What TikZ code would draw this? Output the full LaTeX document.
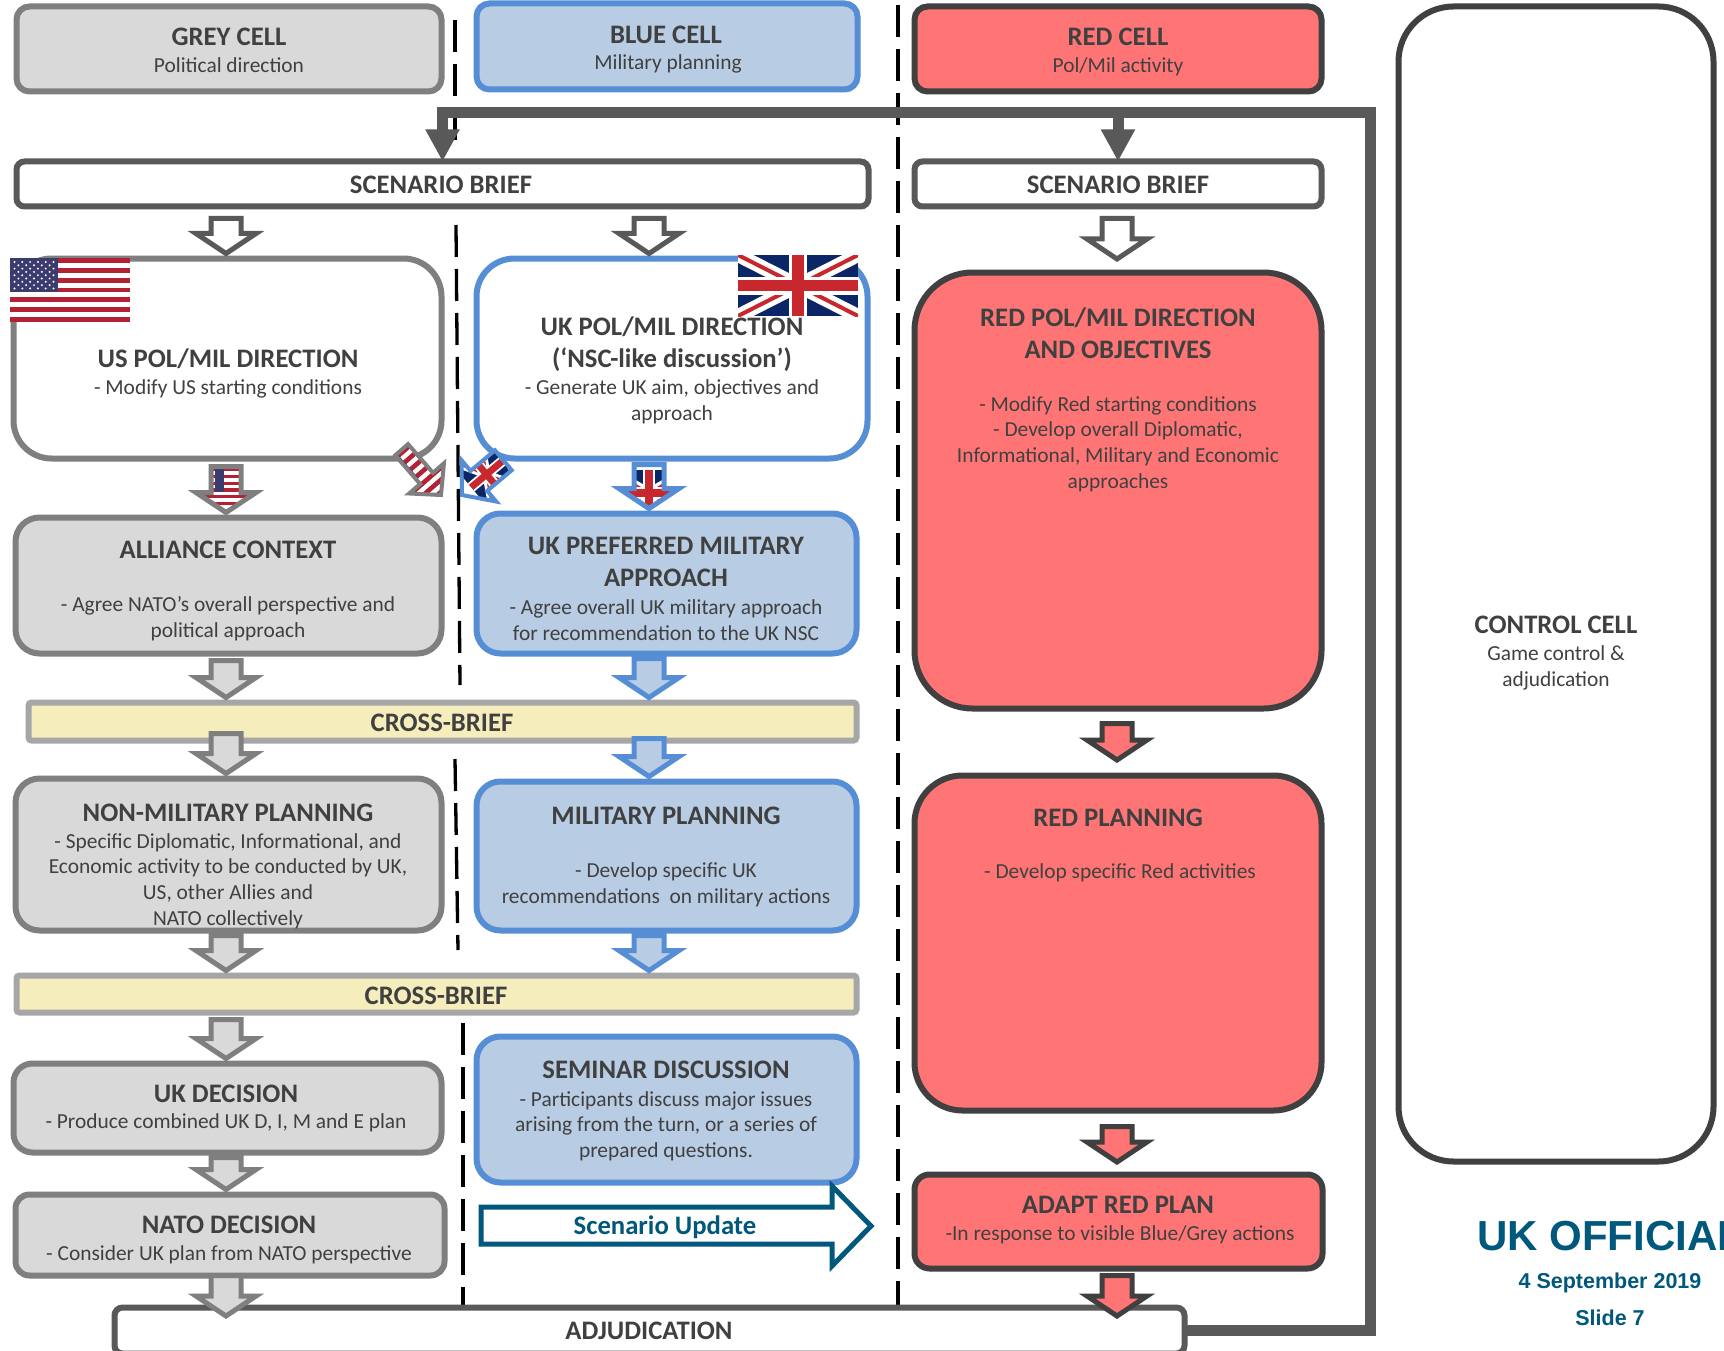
\documentclass[tikz,border=0pt]{standalone}
\usepackage{fontspec}
\setmainfont{Carlito}
\newfontfamily\arialf{Liberation Sans}
\usetikzlibrary{calc,arrows.meta}
\definecolor{txt}{HTML}{404040}
\definecolor{gfill}{HTML}{D9D9D9}
\definecolor{gline}{HTML}{7F7F7F}
\definecolor{bfill}{HTML}{B8CCE4}
\definecolor{bline}{HTML}{558ED5}
\definecolor{rfill}{HTML}{FF7575}
\definecolor{rline}{HTML}{404040}
\definecolor{wline}{HTML}{595959}
\definecolor{xfill}{HTML}{F6EDBD}
\definecolor{xline}{HTML}{A6A6A6}
\definecolor{teal}{HTML}{00587C}
\definecolor{navy}{HTML}{0B2667}
\definecolor{ukred}{HTML}{C8282D}
\definecolor{usred}{HTML}{B22234}
\definecolor{usblue}{HTML}{3C3B6E}
\tikzset{
  cell/.style={rectangle,draw,inner sep=0pt,outer sep=0pt,line width=6pt},
  greybox/.style={cell,fill=gfill,draw=gline,rounded corners=#1},
  bluebox/.style={cell,fill=bfill,draw=bline,rounded corners=#1},
  redbox/.style={cell,fill=rfill,draw=rline,rounded corners=#1},
  whitebox/.style={cell,fill=white,draw=wline,rounded corners=#1},
  crossbox/.style={cell,fill=xfill,draw=xline,rounded corners=3pt},
  head/.style={text=txt,align=center,inner sep=0pt,font=\fontsize{26.7}{32}\selectfont\bfseries},
  body/.style={text=txt,align=center,inner sep=0pt,font=\fontsize{21.4}{25.7}\selectfont},
  divider/.style={line width=3.3pt,black,dash pattern=on 32pt off 12pt},
  busarrow/.style={line width=11pt,wline,line join=miter,-{Triangle[length=32pt,width=32pt]}},
  blockline/.style={line width=5pt,line join=miter,miter limit=10},
  diagline/.style={line width=4pt,line join=miter,miter limit=10},
  brand/.style={text=teal,inner sep=0pt,font=\arialf\bfseries}
}
\newcommand{\boxn}[6]{\node[#1,minimum width={(#5-#3-5)*1pt},minimum height={(#6-#4-5)*1pt}] (#2) at ({(#3+#5)/2},{(#4+#6)/2}) {};}
% block arrow coordinates: x, source, top offset, target
\newcommand{\blkc}[4]{\path let \p1=(#2),\p2=(#4) in coordinate (bt) at ({#1pt},{\y1-(#3)*1pt}) coordinate (bb) at ({#1pt},{\y2+5pt});}
\newcommand{\blkp}{(bb) -- ($(bb)+(-30,-20)$) -- ($(bb)+(-15,-20)$) -- ($(bt)+(-15,0)$) -- ($(bt)+(15,0)$) -- ($(bb)+(15,-20)$) -- ($(bb)+(30,-20)$) -- cycle}
\newcommand{\blk}[6]{\blkc{#1}{#2}{#3}{#4}\draw[blockline,fill=#5,draw=#6] \blkp;}
% flags: x, y, w, h (y grows in the direction of the scope's negative y vector)
\newcommand{\usflag}[6]{\begin{scope}[shift={(#1,#2)},x=#3pt,y=-#4pt]
  \fill[white] (0,0) rectangle (1,1);
  \foreach \s in {0,2,4,6,8,10,12}{\fill[usred] (0,\s/13) rectangle (1,\s/13+1/13);}
  \fill[usblue] (#5,0) rectangle (#6,7/13);
\end{scope}}
\newcommand{\ukflag}[4]{\begin{scope}[shift={(#1,#2)},x=#3pt/60,y=-#4pt/30]
  \pgfmathsetmacro{\fs}{#3/60}
  \clip (0,0) rectangle (60,30);
  \fill[navy] (0,0) rectangle (60,30);
  \draw[white,line width=\fs*7pt] (0,0) -- (60,30) (0,30) -- (60,0);
  \draw[ukred,line width=\fs*2pt] (0,0) -- (60,30) (0,30) -- (60,0);
  \draw[white,line width=\fs*9pt] (30,0) -- (30,30) (0,15) -- (60,15);
  \draw[ukred,line width=\fs*5.8pt] (30,0) -- (30,30) (0,15) -- (60,15);
\end{scope}}
\begin{document}
\begin{tikzpicture}[x=1pt,y=-1pt]
\useasboundingbox (0,0) rectangle (1724,1351);
\clip (0,0) rectangle (1724,1351);
\fill[white] (0,0) rectangle (1724,1351);

% dividers
\draw[divider] (455,20) -- (455,145);
\draw[divider] (456,225) -- (460,685);
\draw[divider] (455,759) -- (458,950);
\draw[divider] (463,1023) -- (463,1305);
\draw[divider] (898,5) -- (898,1305);

% boxes
\boxn{greybox=13pt}{greycell}{14}{4}{444}{94}
\boxn{bluebox=13pt}{bluecell}{474}{1}{860}{92}
\boxn{redbox=13pt}{redcell}{912}{4}{1324}{94}
\boxn{whitebox=8pt}{briefL}{14}{159}{871}{209}
\boxn{whitebox=8pt}{briefR}{912}{159}{1324}{209}
\boxn{whitebox=38pt,draw=gline}{usdir}{11}{256}{444}{461}
\boxn{whitebox=38pt,draw=bline}{ukdir}{474}{256}{870}{461}
\boxn{greybox=24pt}{alliance}{13}{515}{444}{656}
\boxn{bluebox=24pt}{ukpref}{474}{511}{859}{656}
\boxn{crossbox}{crossA}{26}{700}{859}{743}
\boxn{greybox=24pt}{nonmil}{13}{776}{444}{933}
\boxn{bluebox=24pt}{milplan}{474}{779}{859}{933}
\boxn{crossbox}{crossB}{14}{973}{859}{1015}
\boxn{greybox=19pt}{ukdec}{11}{1061}{444}{1155}
\boxn{bluebox=24pt}{seminar}{474}{1034}{859}{1185}
\boxn{greybox=14pt}{natodec}{13}{1192}{447}{1278}
\boxn{redbox=58pt}{redpol}{912}{270}{1324}{711}
\boxn{redbox=48pt}{redplan}{912}{773}{1324}{1113}
\boxn{redbox=15pt}{adapt}{912}{1172}{1325}{1271}
\boxn{whitebox=8pt}{adjud}{112}{1305}{1187}{1356}
\boxn{whitebox=55pt,draw=rline}{control}{1396}{4}{1716}{1164}

% free ends of connectors
\coordinate (busc) at (1370,113);
\coordinate (redtipA) at (1117,264);
\coordinate (redtipB) at (1117,765);
\coordinate (redtipC) at (1117,1167);
\coordinate (adjtipL) at (226,1321);
\coordinate (adjtipR) at (1117,1321);

% big flags
\usflag{10}{258}{120}{64}{0}{.4}
\foreach \i in {0,...,5}{\foreach \j in {0,...,4}{
  \fill[white] (14.5+\i*7.8,262+\j*6.6) circle (1.1);}}
\foreach \i in {0,...,4}{\foreach \j in {0,...,3}{
  \fill[white] (18.4+\i*7.8,265.3+\j*6.6) circle (1.1);}}
\ukflag{738}{255}{120}{61}

% thick connector
\draw[busarrow] (adjud.east) -| (busc) -| (briefL.north);
\draw[busarrow] (busc -| briefR.north) -- (briefR.north);

% block arrows
\blk{226}{briefL.south}{12}{usdir.north}{white}{wline}
\blk{649}{briefL.south}{12}{ukdir.north}{white}{wline}
\blk{1117}{briefR.south}{12}{redtipA}{white}{wline}
\blkc{226}{usdir.south}{8}{alliance.north}
\begin{scope}\clip \blkp; \usflag{196}{468}{60}{44}{.32}{.46} \end{scope}
\draw[blockline,draw=gline] \blkp;
\blkc{649}{ukdir.south}{6}{ukpref.north}
\begin{scope}\clip \blkp; \ukflag{609}{470}{80}{46} \end{scope}
\draw[blockline,draw=bline] \blkp;
\blk{226}{alliance.south}{7}{crossA.north}{gfill}{gline}
\blk{649}{ukpref.south}{5}{crossA.north}{bfill}{bline}
\blk{226}{crossA.south}{-7}{nonmil.north}{gfill}{gline}
\blk{649}{crossA.south}{-2}{milplan.north}{bfill}{bline}
\blk{226}{nonmil.south}{5}{crossB.north}{gfill}{gline}
\blk{649}{milplan.south}{5}{crossB.north}{bfill}{bline}
\blk{226}{crossB.south}{7}{ukdec.north}{gfill}{gline}
\blk{226}{ukdec.south}{5}{natodec.north}{gfill}{gline}
\blk{226}{natodec.south}{0}{adjtipL}{gfill}{gline}
\blk{1117}{redpol.south}{15}{redtipB}{rfill}{rline}
\blk{1117}{redplan.south}{16}{redtipC}{rfill}{rline}
\blk{1117}{adapt.south}{7}{adjtipR}{rfill}{rline}

% diagonal flag arrows
\begin{scope}[shift={(441,495)},rotate=41,x=1pt,y=1pt]
  \begin{scope}
    \clip (0,0) -- (-23,22) -- (-8.5,22) -- (-8.5,60) -- (8.5,60) -- (8.5,22) -- (23,22) -- cycle;
    \usflag{-30}{60}{60}{60}{.22}{.4}
  \end{scope}
  \draw[diagline,draw=gline] (0,0) -- (-23,22) -- (-8.5,22) -- (-8.5,60) -- (8.5,60) -- (8.5,22) -- (23,22) -- cycle;
\end{scope}
\begin{scope}[shift={(462,495)},rotate=-50,x=1pt,y=1pt]
  \begin{scope}
    \clip (0,0) -- (-27,22) -- (-13,22) -- (-13,54) -- (13,54) -- (13,22) -- (27,22) -- cycle;
    \ukflag{-35}{52}{70}{40}
  \end{scope}
  \draw[diagline,draw=bline] (0,0) -- (-27,22) -- (-13,22) -- (-13,54) -- (13,54) -- (13,22) -- (27,22) -- cycle;
\end{scope}

% scenario update arrow
\coordinate (suA) at (481,1207);
\coordinate (suB) at (832,1207);
\coordinate (suC) at (832,1186);
\coordinate (suD) at (871,1226);
\coordinate (suE) at (832,1266);
\coordinate (suF) at (832,1244);
\coordinate (suG) at (481,1244);
\draw[blockline,fill=white,draw=teal] (suA) -- (suB) -- (suC) -- (suD) -- (suE) -- (suF) -- (suG) -- cycle;

% texts
\node[head] (t1) at (229,37) {GREY CELL};
\node[body] (t2) at (229,65) {Political direction};
\node[head] (t3) at (666,35) {BLUE CELL};
\node[body] (t4) at (668,64) {Military planning};
\node[head] (t5) at (1118,37) {RED CELL};
\node[body] (t6) at (1118,67) {Pol/Mil activity};
\node[head] (t7) at (441,185) {SCENARIO BRIEF};
\node[head] (t8) at (1118,185) {SCENARIO BRIEF};
\node[head] (t9) at (228,359) {US POL/MIL DIRECTION};
\node[body] (t10) at (228,389) {- Modify US starting conditions};
\node[head] (t11) at (672,344) {UK POL/MIL DIRECTION\\(‘NSC-like discussion’)};
\node[body] (t12) at (672,402) {- Generate UK aim, objectives and\\approach};
\node[head] (t13) at (228,550) {ALLIANCE CONTEXT};
\node[body] (t14) at (228,619) {- Agree NATO’s overall perspective and\\political approach};
\node[head] (t15) at (666,562) {UK PREFERRED MILITARY\\APPROACH};
\node[body] (t16) at (666,620) {- Agree overall UK military approach\\for recommendation to the UK NSC};
\node[head] (t17) at (442,723) {CROSS-BRIEF};
\node[head] (t18) at (228,813) {NON-MILITARY PLANNING};
\node[body] (t19) at (228,881) {- Specific Diplomatic, Informational, and\\Economic activity to be conducted by UK,\\US, other Allies and\\NATO collectively};
\node[head] (t20) at (666,816) {MILITARY PLANNING};
\node[body] (t21) at (666,885) {- Develop specific UK\\recommendations\ \ on military actions};
\node[head] (t22) at (436,996) {CROSS-BRIEF};
\node[head] (t23) at (226,1094) {UK DECISION};
\node[body] (t24) at (226,1123) {- Produce combined UK D, I, M and E plan};
\node[head] (t25) at (666,1070) {SEMINAR DISCUSSION};
\node[body] (t26) at (666,1126) {- Participants discuss major issues\\arising from the turn, or a series of\\prepared questions.};
\node[head] (t27) at (229,1225) {NATO DECISION};
\node[body] (t28) at (229,1255) {- Consider UK plan from NATO perspective};
\node[head,text=teal] (t29) at (665,1227) {Scenario Update};
\node[head] (t30) at (1118,1205) {ADAPT RED PLAN};
\node[body] (t31) at (1120,1235) {-In response to visible Blue/Grey actions};
\node[head] (t32) at (649,1331) {ADJUDICATION};
\node[head] (t33) at (1118,333) {RED POL/MIL DIRECTION\\AND OBJECTIVES};
\node[body] (t34) at (1118,444) {- Modify Red starting conditions\\- Develop overall Diplomatic,\\Informational, Military and Economic\\approaches};
\node[head] (t35) at (1118,818) {RED PLANNING};
\node[body] (t36) at (1120,873) {- Develop specific Red activities};
\node[head] (t37) at (1556,625) {CONTROL CELL};
\node[body] (t38) at (1556,668) {Game control \&\\adjudication};
\node[brand,anchor=west,font=\arialf\bfseries\fontsize{42}{48}\selectfont] (t39) at (1477,1236) {UK OFFICIAL};
\node[brand,font=\arialf\bfseries\fontsize{21.5}{24}\selectfont] (t40) at (1610,1283) {4 September 2019};
\node[brand,font=\arialf\bfseries\fontsize{21.5}{24}\selectfont] (t41) at (1610,1318) {Slide 7};
\end{tikzpicture}
\end{document}
